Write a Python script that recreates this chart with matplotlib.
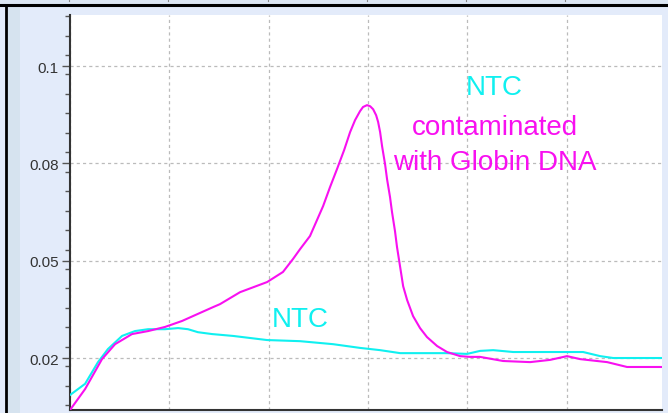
import matplotlib
matplotlib.use("Agg")
import matplotlib.pyplot as plt
from matplotlib.patches import Rectangle
from matplotlib.lines import Line2D
from matplotlib.ticker import MultipleLocator, FixedLocator

# ---- data (temperature °C, derivative fluorescence) ----
temp_contam = [65.00, 65.76, 66.61, 67.27, 68.12, 68.93, 69.78, 70.64, 71.44, 72.20,
               72.55, 73.56, 74.92, 75.72, 76.23, 76.58, 77.08, 77.74, 78.09, 78.44,
               78.80, 79.10, 79.35, 79.60, 79.75, 79.95, 80.11, 80.26, 80.41, 80.51,
               80.61, 80.71, 80.86, 80.96, 81.11, 81.21, 81.36, 81.46, 81.62, 81.77,
               81.97, 82.27, 82.62, 82.97, 83.48, 83.98, 84.64, 85.14, 85.64, 86.80,
               88.16, 89.17, 90.02, 90.68, 92.04, 93.04, 94.81]
deriv_contam = [0.0091, 0.0147, 0.0227, 0.0267, 0.0294, 0.0302, 0.0313, 0.0329, 0.0348, 0.0366,
                0.0374, 0.0406, 0.0433, 0.0460, 0.0495, 0.0521, 0.0556, 0.0636, 0.0687, 0.0735,
                0.0786, 0.0834, 0.0866, 0.0890, 0.0901, 0.0906, 0.0903, 0.0895, 0.0879, 0.0861,
                0.0834, 0.0796, 0.0748, 0.0708, 0.0660, 0.0620, 0.0569, 0.0527, 0.0473, 0.0422,
                0.0385, 0.0342, 0.0310, 0.0286, 0.0262, 0.0246, 0.0235, 0.0233, 0.0233, 0.0222,
                0.0219, 0.0225, 0.0235, 0.0227, 0.0219, 0.0206, 0.0206]

temp_ntc = [65.00, 65.76, 66.41, 66.91, 67.62, 68.27, 68.93, 69.78, 70.44, 70.94,
            71.44, 72.15, 73.21, 74.92, 76.58, 78.24, 79.60, 80.61, 81.62, 83.98,
            84.99, 85.64, 86.30, 87.31, 90.83, 91.69, 92.34, 94.81]
deriv_ntc = [0.0131, 0.0161, 0.0219, 0.0254, 0.0289, 0.0302, 0.0307, 0.0307, 0.0310, 0.0307,
             0.0299, 0.0294, 0.0289, 0.0278, 0.0275, 0.0267, 0.0257, 0.0251, 0.0243, 0.0243,
             0.0241, 0.0249, 0.0251, 0.0246, 0.0246, 0.0235, 0.0230, 0.0230]

ytick_vals = [0.023, 0.049, 0.075, 0.101]
ytick_labels = ["0.02", "0.05", "0.08", "0.1"]
xgrid_vals = [65, 70, 75, 80, 85, 90]

CYAN = "#10F0F0"
MAGENTA = "#F810F0"

plt.rcParams['font.family'] = ['Liberation Sans', 'DejaVu Sans']

fig = plt.figure(figsize=(6.68, 4.14), dpi=100, facecolor="#E3EBFA")
W, H = 668, 414

def fx(px):
    return px / W

def fy(py):
    return 1 - py / H

# decorations of the surrounding frame
fig.patches.append(Rectangle((0, fy(5)), 1, fy(0) - fy(5), transform=fig.transFigure,
                             facecolor="#DCE6F3", edgecolor="none", zorder=0))
fig.patches.append(Rectangle((fx(7), 0), fx(20) - fx(7), fy(7), transform=fig.transFigure,
                             facecolor="#D6E3EF", edgecolor="none", zorder=0))
fig.lines.append(Line2D([0, 1], [fy(6), fy(6)], transform=fig.transFigure,
                        color="black", lw=2.2, zorder=5))
fig.lines.append(Line2D([fx(5.5), fx(5.5)], [0, fy(6)], transform=fig.transFigure,
                        color="black", lw=2.0, zorder=5))
for px in [69, 168, 268, 367, 466, 565]:
    fig.lines.append(Line2D([fx(px), fx(px)], [fy(0), fy(2)], transform=fig.transFigure,
                            color="#888888", lw=0.8, zorder=5))

ax = fig.add_axes([fx(70), fy(411), fx(662) - fx(70), fy(16) - fy(411)])
ax.set_facecolor("white")

ax.plot(temp_ntc, deriv_ntc, color=CYAN, lw=1.5, zorder=3)
ax.plot(temp_contam, deriv_contam, color=MAGENTA, lw=1.5, zorder=4)

ax.set_xlim(65, 94.8)
ax.set_ylim(0.0091, 0.1147)

ax.yaxis.set_major_locator(FixedLocator(ytick_vals))
ax.set_yticklabels(ytick_labels)
ax.yaxis.set_minor_locator(MultipleLocator(0.0052))
ax.xaxis.set_major_locator(FixedLocator(xgrid_vals))
ax.set_xticklabels([])
ax.tick_params(axis='x', length=0)
ax.tick_params(axis='y', which='major', length=6, width=1, color="#555555",
               labelsize=11, labelcolor="#333333", pad=2)
ax.tick_params(axis='y', which='minor', length=3.5, width=1, color="#555555")

ax.grid(True, which='major', linestyle=(0, (2.5, 2.5)), color="#BBBBBB", lw=0.9)

for s in ['top', 'right']:
    ax.spines[s].set_visible(False)
ax.spines['left'].set_color("#333333")
ax.spines['left'].set_linewidth(1.5)
ax.spines['bottom'].set_color("#333333")
ax.spines['bottom'].set_linewidth(1.5)

ax.text(86.35, 0.0935, "NTC", color=CYAN, fontsize=20, ha='center', va='baseline')
ax.text(86.40, 0.0829, "contaminated", color=MAGENTA, fontsize=20, ha='center', va='baseline')
ax.text(86.40, 0.0735, "with Globin DNA", color=MAGENTA, fontsize=20, ha='center', va='baseline')
ax.text(76.58, 0.0316, "NTC", color=CYAN, fontsize=20, ha='center', va='baseline')

fig.savefig("out.png", dpi=100, facecolor=fig.get_facecolor())
